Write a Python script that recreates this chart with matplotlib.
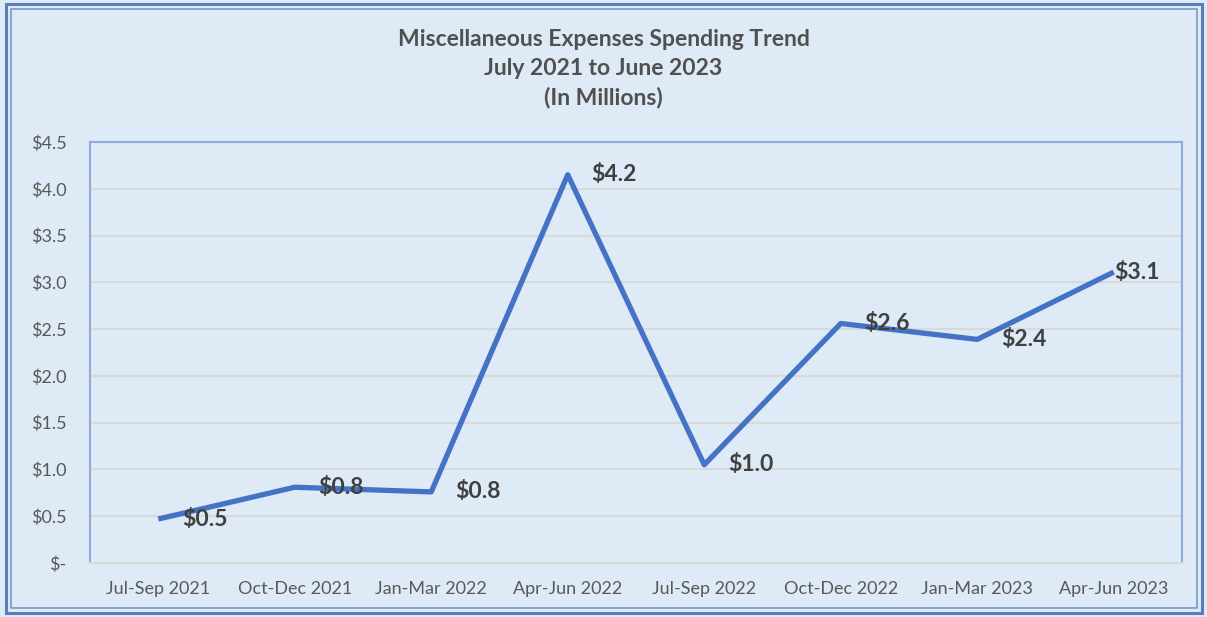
import matplotlib
matplotlib.use("Agg")
import matplotlib.pyplot as plt
from matplotlib.patches import Rectangle

# quarterly spending, in millions
quarters = ["Jul-Sep 2021", "Oct-Dec 2021", "Jan-Mar 2022", "Apr-Jun 2022",
            "Jul-Sep 2022", "Oct-Dec 2022", "Jan-Mar 2023", "Apr-Jun 2023"]
spending = [0.47, 0.81, 0.76, 4.15, 1.05, 2.56, 2.39, 3.11]
point_labels = ["$0.5", "$0.8", "$0.8", "$4.2", "$1.0", "$2.6", "$2.4", "$3.1"]
yticks = [0, 0.5, 1.0, 1.5, 2.0, 2.5, 3.0, 3.5, 4.0, 4.5]
ytick_labels = ["$-", "$0.5", "$1.0", "$1.5", "$2.0", "$2.5", "$3.0", "$3.5", "$4.0", "$4.5"]

plt.rcParams['font.family'] = ['Lato', 'DejaVu Sans']

bg = "#DEEAF6"
line_blue = "#4472C4"
frame_blue = "#8FAADC"

fig = plt.figure(figsize=(12.07, 6.17), dpi=100, facecolor=bg)
ax = fig.add_axes([90/1207, 54/617, 1092/1207, 421/617])
ax.set_facecolor(bg)

x = list(range(len(quarters)))
ax.plot(x, spending, color=line_blue, lw=3.8, solid_capstyle='butt', zorder=3)

# labels sit to the right of each point; the last one is pulled in to stay inside the plot
for i, (xi, yi, lab) in enumerate(zip(x, spending, point_labels)):
    dx = 0 if i == len(x) - 1 else 17
    ax.annotate(lab, (xi, yi), xytext=(dx, 0), textcoords='offset points',
                ha='left', va='center', fontsize=16.5, fontweight='bold',
                color='#404040', zorder=4)

ax.set_xlim(-0.5, len(quarters) - 0.5)
ax.set_ylim(0, 4.5)
ax.set_xticks(x)
ax.set_xticklabels(quarters)
ax.set_yticks(yticks)
ax.set_yticklabels(ytick_labels)
ax.tick_params(length=0, labelsize=13, colors='#595959')
ax.tick_params(axis='x', pad=13)
ax.tick_params(axis='y', pad=17)

ax.grid(axis='y', color='#D9D9D9', lw=1.5)
ax.set_axisbelow(True)
for side in ['left', 'top', 'right']:
    ax.spines[side].set_color(frame_blue)
    ax.spines[side].set_linewidth(1.5)
ax.spines['bottom'].set_color('#D9D9D9')
ax.spines['bottom'].set_linewidth(1.5)

fig.text(0.5, 1 - 69/617, "Miscellaneous Expenses Spending Trend\nJuly 2021 to June 2023\n(In Millions)",
         ha='center', va='center', fontsize=16.5, fontweight='bold', color='#505050',
         linespacing=1.45)

# double border around the chart
fig.patches.append(Rectangle((6/1207, 4/617), 1196/1207, 609/617, transform=fig.transFigure,
                             fill=False, edgecolor='#5B7DB8', lw=2.2))
fig.patches.append(Rectangle((11/1207, 9/617), 1186/1207, 599/617, transform=fig.transFigure,
                             fill=False, edgecolor='#7A98CC', lw=1.2))

fig.savefig("out.png", dpi=100, facecolor=fig.get_facecolor())
